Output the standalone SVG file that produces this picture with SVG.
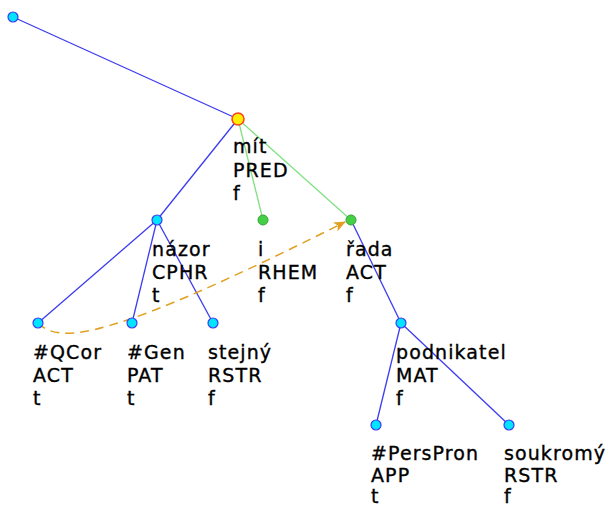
<svg xmlns="http://www.w3.org/2000/svg" width="613" height="507" viewBox="0 0 613 507">
<defs>
<style>
.e{stroke:#3c3cf0;stroke-width:1.3;fill:none}
.g{stroke:#80e080;stroke-width:1.3;fill:none}
.n{fill:#00e5ff;stroke:#3c3cf0;stroke-width:1.2}
.ng{fill:#44d044;stroke:#3aa03a;stroke-width:1}
.nr{fill:#ffee00;stroke:#ff4020;stroke-width:1.5}
text{font-family:"DejaVu Sans",sans-serif;font-size:19px;letter-spacing:1.1px;fill:#000;stroke:#000;stroke-width:0.35}
</style>
<marker id="ah" markerWidth="12" markerHeight="10" refX="11" refY="5" orient="auto" markerUnits="userSpaceOnUse">
<path d="M0,0 L12,5 L0,10 L3,5 Z" fill="#e0a020"/>
</marker>
</defs>
<rect width="613" height="507" fill="#fff"/>
<g id="connectors">
<line class="e" x1="13" y1="17" x2="238" y2="119"/>
<line class="e" x1="238" y1="119" x2="157" y2="220"/>
<line class="g" x1="238" y1="119" x2="263" y2="220"/>
<line class="g" x1="238" y1="119" x2="351" y2="220"/>
<line class="e" x1="157" y1="220" x2="38" y2="323"/>
<line class="e" x1="157" y1="220" x2="132" y2="323"/>
<line class="e" x1="157" y1="220" x2="213" y2="323"/>
<line class="e" x1="351" y1="220" x2="401" y2="323"/>
<line class="e" x1="401" y1="323" x2="376" y2="425"/>
<line class="e" x1="401" y1="323" x2="509" y2="425"/>
<path d="M38 323 C60 345 110 340 345 222" fill="none" stroke="#e0a020" stroke-width="1.5" stroke-dasharray="9,6" marker-end="url(#ah)"/>
</g>
<g id="root"><circle class="n" cx="13" cy="17" r="5"/></g>
<g id="mit"><circle class="nr" cx="238" cy="119" r="6"/>
<text x="233" y="153">mít</text><text x="233" y="177">PRED</text><text x="233" y="200">f</text></g>
<g id="nazor"><circle class="n" cx="157" cy="220" r="5"/>
<text x="152" y="256">názor</text><text x="152" y="279">CPHR</text><text x="152" y="302">t</text></g>
<g id="i"><circle class="ng" cx="263" cy="220" r="5"/>
<text x="258" y="256">i</text><text x="258" y="279">RHEM</text><text x="258" y="302">f</text></g>
<g id="rada"><circle class="ng" cx="351" cy="220" r="5"/>
<text x="346" y="256">řada</text><text x="346" y="279">ACT</text><text x="346" y="302">f</text></g>
<g id="qcor"><circle class="n" cx="38" cy="323" r="5"/>
<text x="33" y="359">#QCor</text><text x="33" y="382">ACT</text><text x="33" y="405">t</text></g>
<g id="gen"><circle class="n" cx="132" cy="323" r="5"/>
<text x="127" y="359">#Gen</text><text x="127" y="382">PAT</text><text x="127" y="405">t</text></g>
<g id="stejny"><circle class="n" cx="213" cy="323" r="5"/>
<text x="208" y="359">stejný</text><text x="208" y="382">RSTR</text><text x="208" y="405">f</text></g>
<g id="podnikatel"><circle class="n" cx="401" cy="323" r="5"/>
<text x="396" y="359">podnikatel</text><text x="396" y="382">MAT</text><text x="396" y="405">f</text></g>
<g id="perspron"><circle class="n" cx="376" cy="425" r="5"/>
<text x="371" y="460">#PersPron</text><text x="371" y="482">APP</text><text x="371" y="503">t</text></g>
<g id="soukromy"><circle class="n" cx="509" cy="425" r="5"/>
<text x="504" y="460">soukromý</text><text x="504" y="482">RSTR</text><text x="504" y="503">f</text></g>
</svg>
